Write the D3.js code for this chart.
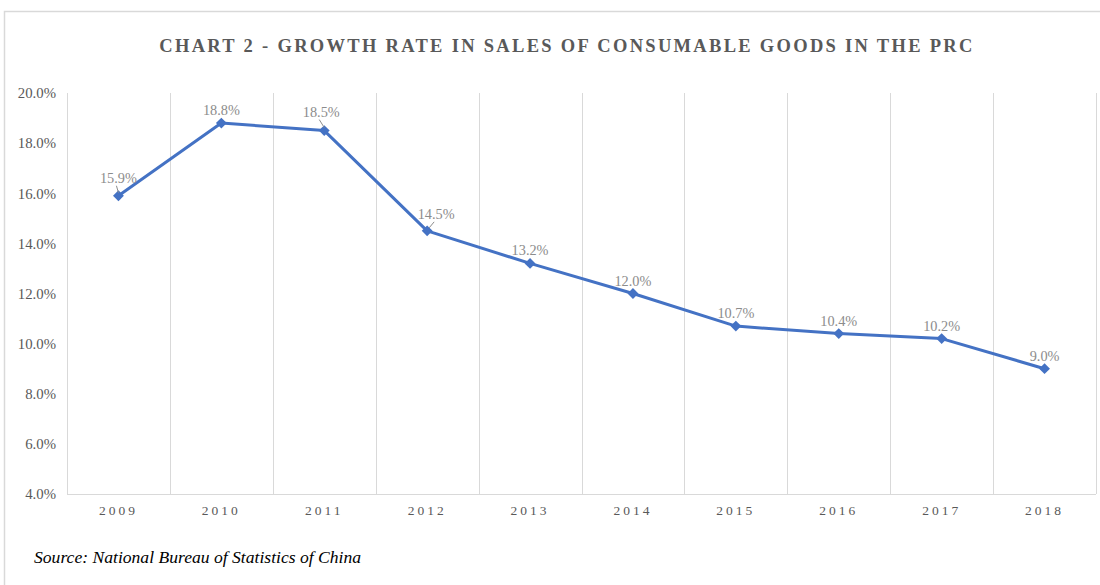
<!DOCTYPE html>
<html>
<head>
<meta charset="utf-8">
<script src="https://cdn.jsdelivr.net/npm/d3@7"></script>
<style>
    body { margin: 0; background: #fff; }
    svg { display: block; font-family: "Liberation Serif", "Times New Roman", serif; }
</style>
</head>
<body>
<div id="chart"></div>
<script>
// données
const years = ['2009', '2010', '2011', '2012', '2013', '2014', '2015', '2016', '2017', '2018'];
const growth = [15.9, 18.8, 18.5, 14.5, 13.2, 12.0, 10.7, 10.4, 10.2, 9.0];
const yTicks = [4, 6, 8, 10, 12, 14, 16, 18, 20];
const withLeader = ['2009', '2011', '2012'];

let width = 1100;
let height = 585;
let margin = { top: 93, right: 4, bottom: 91, left: 67 };

let svg = d3.select('#chart')
    .append('svg')
    .attr('width', width)
    .attr('height', height);

// cadre
svg.append('path')
    .attr('d', 'M4.5,' + height + ' V11.5 H' + width)
    .attr('fill', 'none')
    .attr('stroke', '#d9d9d9')
    .attr('stroke-width', 1.5);

// titre
svg.append('text')
    .attr('x', 567)
    .attr('y', 52)
    .attr('text-anchor', 'middle')
    .attr('font-size', 18.5)
    .attr('font-weight', 'bold')
    .attr('letter-spacing', 2.3)
    .attr('fill', '#595959')
    .text('CHART 2 - GROWTH RATE IN SALES OF CONSUMABLE GOODS IN THE PRC');

let x = d3.scaleBand()
    .domain(years)
    .range([margin.left, width - margin.right]);

let y = d3.scaleLinear()
    .domain([4, 20])
    .range([height - margin.bottom, margin.top]);

// grille verticale
let edges = years.map(d => x(d)).concat([x.range()[1]]);
svg.append('g')
    .selectAll('line')
    .data(edges)
    .enter()
    .append('line')
    .attr('x1', d => Math.round(d) + 0.5)
    .attr('x2', d => Math.round(d) + 0.5)
    .attr('y1', y(20))
    .attr('y2', y(4))
    .attr('stroke', '#d9d9d9')
    .attr('stroke-width', 1);

// axe horizontal
svg.append('line')
    .attr('x1', x.range()[0])
    .attr('x2', x.range()[1])
    .attr('y1', Math.round(y(4)) + 0.5)
    .attr('y2', Math.round(y(4)) + 0.5)
    .attr('stroke', '#d9d9d9');

// axe Y
let yAxis = svg.append('g')
    .attr('transform', 'translate(' + margin.left + ',0)')
    .call(d3.axisLeft(y).tickValues(yTicks).tickSize(0).tickPadding(11).tickFormat(d => d.toFixed(1) + '%'));
yAxis.select('.domain').remove();
yAxis.selectAll('text')
    .attr('font-family', '"Liberation Serif", serif')
    .attr('font-size', 14.8)
    .attr('fill', '#595959');

// axe X
let xAxis = svg.append('g')
    .attr('transform', 'translate(0,' + y(4) + ')')
    .call(d3.axisBottom(x).tickSize(0).tickPadding(11));
xAxis.select('.domain').remove();
xAxis.selectAll('text')
    .attr('font-family', '"Liberation Serif", serif')
    .attr('font-size', 13.5)
    .attr('letter-spacing', 3)
    .attr('fill', '#595959');

let cx = d => x(d) + x.bandwidth() / 2;

// courbe
let line = d3.line()
    .x((d, i) => cx(years[i]))
    .y(d => y(d));

svg.append('path')
    .datum(growth)
    .attr('d', line)
    .attr('fill', 'none')
    .attr('stroke', '#4472C4')
    .attr('stroke-width', 3)
    .attr('stroke-linejoin', 'round');

// marqueurs
svg.append('g')
    .selectAll('path')
    .data(growth)
    .enter()
    .append('path')
    .attr('d', d3.symbol().type(d3.symbolDiamond2).size(75))
    .attr('transform', (d, i) => 'translate(' + cx(years[i]) + ',' + y(d) + ')')
    .attr('fill', '#4472C4');

// étiquettes
let labels = svg.append('g');
growth.forEach((d, i) => {
    let lead = withLeader.includes(years[i]);
    let px = cx(years[i]);
    let py = y(d);
    let lx = px;
    let ly = py - 8;
    if (years[i] === '2009') { ly = py - 13; }
    if (years[i] === '2011') { lx = px - 3; ly = py - 14; }
    if (years[i] === '2012') { lx = px + 9; ly = py - 12; }
    labels.append('text')
        .attr('x', lx)
        .attr('y', ly)
        .attr('text-anchor', 'middle')
        .attr('font-size', 14.3)
        .attr('fill', '#8c8c8c')
        .text(d.toFixed(1) + '%');
    if (lead) {
        let ex = years[i] === '2012' ? px + 6 : px - 2;
        labels.append('line')
            .attr('x1', lx - 2)
            .attr('y1', ly + 3)
            .attr('x2', ex + (years[i] === '2012' ? -4 : 2))
            .attr('y2', py - 3)
            .attr('stroke', '#8c8c8c')
            .attr('stroke-width', 1);
    }
});

// source
svg.append('text')
    .attr('x', 34)
    .attr('y', 563)
    .attr('font-size', 17.6)
    .attr('font-style', 'italic')
    .attr('fill', '#000')
    .text('Source: National Bureau of Statistics of China');
</script>
</body>
</html>
